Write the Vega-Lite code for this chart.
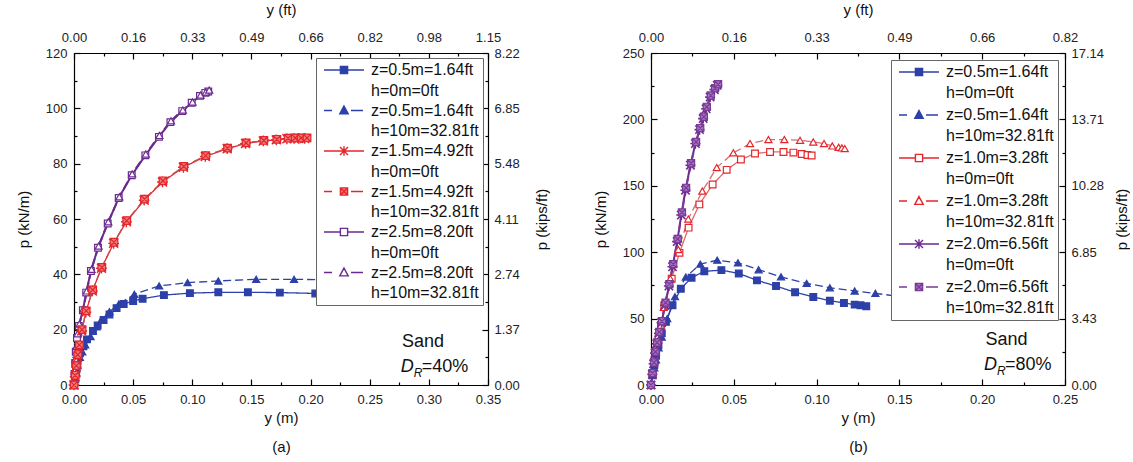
{
"$schema": "https://vega.github.io/schema/vega-lite/v6.json",
"padding": {"left": 16, "top": 2, "right": 0, "bottom": 0},
"spacing": 163,
"bounds": "flush",
"resolve": {"scale": {"x": "independent", "y": "independent", "color": "independent", "fill": "independent", "stroke": "independent", "shape": "independent", "strokeDash": "independent"}, "legend": {"color": "independent", "fill": "independent", "stroke": "independent", "shape": "independent", "strokeDash": "independent"}},
"config": {
  "font": "Liberation Sans",
  "view": {"stroke": null},
  "style": {"guide-label": {"lineHeight": 20.5}},
  "axis": {"domainColor": "#000", "domainWidth": 1.2, "tickColor": "#000", "tickWidth": 1.2, "labelFont": "Liberation Sans", "labelFontSize": 13, "labelColor": "#222", "titleFont": "Liberation Sans", "titleFontSize": 15, "titleFontWeight": "normal", "titleColor": "#111", "grid": false, "labelFlush": false}
},
"hconcat": [
{
  "width": 414, "height": 332,
  "resolve": {"axis": {"x": "independent", "y": "independent"}},
  "data": {"values": [
    {"s":"z=0.5m=1.64ft|h=0m=0ft","x":0,"p":0},{"s":"z=0.5m=1.64ft|h=0m=0ft","x":0.001,"p":2.5},{"s":"z=0.5m=1.64ft|h=0m=0ft","x":0.002,"p":5.5},{"s":"z=0.5m=1.64ft|h=0m=0ft","x":0.003,"p":8.5},{"s":"z=0.5m=1.64ft|h=0m=0ft","x":0.005,"p":11.5},{"s":"z=0.5m=1.64ft|h=0m=0ft","x":0.008,"p":14},{"s":"z=0.5m=1.64ft|h=0m=0ft","x":0.011,"p":16.5},{"s":"z=0.5m=1.64ft|h=0m=0ft","x":0.016,"p":19.5},{"s":"z=0.5m=1.64ft|h=0m=0ft","x":0.02,"p":21.5},{"s":"z=0.5m=1.64ft|h=0m=0ft","x":0.025,"p":23.5},{"s":"z=0.5m=1.64ft|h=0m=0ft","x":0.03,"p":25.5},{"s":"z=0.5m=1.64ft|h=0m=0ft","x":0.036,"p":27.8},{"s":"z=0.5m=1.64ft|h=0m=0ft","x":0.042,"p":29.3},{"s":"z=0.5m=1.64ft|h=0m=0ft","x":0.05,"p":30.3},{"s":"z=0.5m=1.64ft|h=0m=0ft","x":0.058,"p":31.2},{"s":"z=0.5m=1.64ft|h=0m=0ft","x":0.076,"p":32.5},{"s":"z=0.5m=1.64ft|h=0m=0ft","x":0.098,"p":33.2},{"s":"z=0.5m=1.64ft|h=0m=0ft","x":0.122,"p":33.5},{"s":"z=0.5m=1.64ft|h=0m=0ft","x":0.147,"p":33.5},{"s":"z=0.5m=1.64ft|h=0m=0ft","x":0.174,"p":33.4},{"s":"z=0.5m=1.64ft|h=0m=0ft","x":0.204,"p":33.1},
    {"s":"z=0.5m=1.64ft|h=10m=32.81ft","x":0,"p":0},{"s":"z=0.5m=1.64ft|h=10m=32.81ft","x":0.001,"p":2},{"s":"z=0.5m=1.64ft|h=10m=32.81ft","x":0.002,"p":4.5},{"s":"z=0.5m=1.64ft|h=10m=32.81ft","x":0.003,"p":7},{"s":"z=0.5m=1.64ft|h=10m=32.81ft","x":0.005,"p":10},{"s":"z=0.5m=1.64ft|h=10m=32.81ft","x":0.007,"p":12},{"s":"z=0.5m=1.64ft|h=10m=32.81ft","x":0.0095,"p":14.5},{"s":"z=0.5m=1.64ft|h=10m=32.81ft","x":0.014,"p":17.5},{"s":"z=0.5m=1.64ft|h=10m=32.81ft","x":0.019,"p":21},{"s":"z=0.5m=1.64ft|h=10m=32.81ft","x":0.023,"p":23.5},{"s":"z=0.5m=1.64ft|h=10m=32.81ft","x":0.03,"p":26.5},{"s":"z=0.5m=1.64ft|h=10m=32.81ft","x":0.038,"p":29.3},{"s":"z=0.5m=1.64ft|h=10m=32.81ft","x":0.051,"p":32.8},{"s":"z=0.5m=1.64ft|h=10m=32.81ft","x":0.072,"p":35.8},{"s":"z=0.5m=1.64ft|h=10m=32.81ft","x":0.096,"p":37},{"s":"z=0.5m=1.64ft|h=10m=32.81ft","x":0.122,"p":37.6},{"s":"z=0.5m=1.64ft|h=10m=32.81ft","x":0.154,"p":38.2},{"s":"z=0.5m=1.64ft|h=10m=32.81ft","x":0.186,"p":38.2},{"s":"z=0.5m=1.64ft|h=10m=32.81ft","x":0.22,"p":38},
    {"s":"z=1.5m=4.92ft|h=0m=0ft","x":0,"p":0},{"s":"z=1.5m=4.92ft|h=0m=0ft","x":0.001,"p":3},{"s":"z=1.5m=4.92ft|h=0m=0ft","x":0.002,"p":6.5},{"s":"z=1.5m=4.92ft|h=0m=0ft","x":0.003,"p":10},{"s":"z=1.5m=4.92ft|h=0m=0ft","x":0.0042,"p":13.5},{"s":"z=1.5m=4.92ft|h=0m=0ft","x":0.0065,"p":19.5},{"s":"z=1.5m=4.92ft|h=0m=0ft","x":0.01,"p":26.3},{"s":"z=1.5m=4.92ft|h=0m=0ft","x":0.0155,"p":34},{"s":"z=1.5m=4.92ft|h=0m=0ft","x":0.0232,"p":42.2},{"s":"z=1.5m=4.92ft|h=0m=0ft","x":0.0335,"p":51.2},{"s":"z=1.5m=4.92ft|h=0m=0ft","x":0.0443,"p":59},{"s":"z=1.5m=4.92ft|h=0m=0ft","x":0.0593,"p":66.8},{"s":"z=1.5m=4.92ft|h=0m=0ft","x":0.0748,"p":73.4},{"s":"z=1.5m=4.92ft|h=0m=0ft","x":0.0925,"p":78.7},{"s":"z=1.5m=4.92ft|h=0m=0ft","x":0.111,"p":82.6},{"s":"z=1.5m=4.92ft|h=0m=0ft","x":0.1295,"p":85.4},{"s":"z=1.5m=4.92ft|h=0m=0ft","x":0.145,"p":87.3},{"s":"z=1.5m=4.92ft|h=0m=0ft","x":0.16,"p":88.2},{"s":"z=1.5m=4.92ft|h=0m=0ft","x":0.171,"p":88.6},{"s":"z=1.5m=4.92ft|h=0m=0ft","x":0.18,"p":89},{"s":"z=1.5m=4.92ft|h=0m=0ft","x":0.186,"p":89.1},{"s":"z=1.5m=4.92ft|h=0m=0ft","x":0.19,"p":89.1},{"s":"z=1.5m=4.92ft|h=0m=0ft","x":0.195,"p":89.1},
    {"s":"z=1.5m=4.92ft|h=10m=32.81ft","x":0,"p":0},{"s":"z=1.5m=4.92ft|h=10m=32.81ft","x":0.001,"p":3.5},{"s":"z=1.5m=4.92ft|h=10m=32.81ft","x":0.002,"p":7},{"s":"z=1.5m=4.92ft|h=10m=32.81ft","x":0.0032,"p":11},{"s":"z=1.5m=4.92ft|h=10m=32.81ft","x":0.0045,"p":14.5},{"s":"z=1.5m=4.92ft|h=10m=32.81ft","x":0.0068,"p":20},{"s":"z=1.5m=4.92ft|h=10m=32.81ft","x":0.0103,"p":26.8},{"s":"z=1.5m=4.92ft|h=10m=32.81ft","x":0.0158,"p":34.4},{"s":"z=1.5m=4.92ft|h=10m=32.81ft","x":0.0235,"p":42.5},{"s":"z=1.5m=4.92ft|h=10m=32.81ft","x":0.0338,"p":51.6},{"s":"z=1.5m=4.92ft|h=10m=32.81ft","x":0.0446,"p":59.4},{"s":"z=1.5m=4.92ft|h=10m=32.81ft","x":0.0596,"p":67.2},{"s":"z=1.5m=4.92ft|h=10m=32.81ft","x":0.0752,"p":73.8},{"s":"z=1.5m=4.92ft|h=10m=32.81ft","x":0.0928,"p":79},{"s":"z=1.5m=4.92ft|h=10m=32.81ft","x":0.1113,"p":82.9},{"s":"z=1.5m=4.92ft|h=10m=32.81ft","x":0.1298,"p":85.6},{"s":"z=1.5m=4.92ft|h=10m=32.81ft","x":0.1455,"p":87.5},{"s":"z=1.5m=4.92ft|h=10m=32.81ft","x":0.1605,"p":88.4},{"s":"z=1.5m=4.92ft|h=10m=32.81ft","x":0.1715,"p":88.8},{"s":"z=1.5m=4.92ft|h=10m=32.81ft","x":0.181,"p":89.2},{"s":"z=1.5m=4.92ft|h=10m=32.81ft","x":0.187,"p":89.3},{"s":"z=1.5m=4.92ft|h=10m=32.81ft","x":0.192,"p":89.3},{"s":"z=1.5m=4.92ft|h=10m=32.81ft","x":0.197,"p":89.3},
    {"s":"z=2.5m=8.20ft|h=0m=0ft","x":0,"p":0},{"s":"z=2.5m=8.20ft|h=0m=0ft","x":0.0005,"p":4},{"s":"z=2.5m=8.20ft|h=0m=0ft","x":0.001,"p":8},{"s":"z=2.5m=8.20ft|h=0m=0ft","x":0.0015,"p":12},{"s":"z=2.5m=8.20ft|h=0m=0ft","x":0.0025,"p":17},{"s":"z=2.5m=8.20ft|h=0m=0ft","x":0.004,"p":21.3},{"s":"z=2.5m=8.20ft|h=0m=0ft","x":0.0075,"p":27},{"s":"z=2.5m=8.20ft|h=0m=0ft","x":0.0103,"p":33.4},{"s":"z=2.5m=8.20ft|h=0m=0ft","x":0.0143,"p":41.2},{"s":"z=2.5m=8.20ft|h=0m=0ft","x":0.0203,"p":49.6},{"s":"z=2.5m=8.20ft|h=0m=0ft","x":0.0285,"p":58.4},{"s":"z=2.5m=8.20ft|h=0m=0ft","x":0.0378,"p":67.6},{"s":"z=2.5m=8.20ft|h=0m=0ft","x":0.0488,"p":75.8},{"s":"z=2.5m=8.20ft|h=0m=0ft","x":0.0603,"p":83},{"s":"z=2.5m=8.20ft|h=0m=0ft","x":0.0718,"p":89.7},{"s":"z=2.5m=8.20ft|h=0m=0ft","x":0.0815,"p":95},{"s":"z=2.5m=8.20ft|h=0m=0ft","x":0.0915,"p":99},{"s":"z=2.5m=8.20ft|h=0m=0ft","x":0.0995,"p":102},{"s":"z=2.5m=8.20ft|h=0m=0ft","x":0.1065,"p":104.5},{"s":"z=2.5m=8.20ft|h=0m=0ft","x":0.111,"p":105.6},{"s":"z=2.5m=8.20ft|h=0m=0ft","x":0.1135,"p":106.1},
    {"s":"z=2.5m=8.20ft|h=10m=32.81ft","x":0,"p":0},{"s":"z=2.5m=8.20ft|h=10m=32.81ft","x":0.0006,"p":5},{"s":"z=2.5m=8.20ft|h=10m=32.81ft","x":0.0012,"p":9.5},{"s":"z=2.5m=8.20ft|h=10m=32.81ft","x":0.002,"p":14},{"s":"z=2.5m=8.20ft|h=10m=32.81ft","x":0.003,"p":18.5},{"s":"z=2.5m=8.20ft|h=10m=32.81ft","x":0.0045,"p":22},{"s":"z=2.5m=8.20ft|h=10m=32.81ft","x":0.008,"p":27.5},{"s":"z=2.5m=8.20ft|h=10m=32.81ft","x":0.0108,"p":34},{"s":"z=2.5m=8.20ft|h=10m=32.81ft","x":0.0148,"p":41.8},{"s":"z=2.5m=8.20ft|h=10m=32.81ft","x":0.0208,"p":50.2},{"s":"z=2.5m=8.20ft|h=10m=32.81ft","x":0.029,"p":59},{"s":"z=2.5m=8.20ft|h=10m=32.81ft","x":0.0383,"p":68},{"s":"z=2.5m=8.20ft|h=10m=32.81ft","x":0.0492,"p":76.3},{"s":"z=2.5m=8.20ft|h=10m=32.81ft","x":0.0607,"p":83.5},{"s":"z=2.5m=8.20ft|h=10m=32.81ft","x":0.0722,"p":90.2},{"s":"z=2.5m=8.20ft|h=10m=32.81ft","x":0.082,"p":95.5},{"s":"z=2.5m=8.20ft|h=10m=32.81ft","x":0.092,"p":99.4},{"s":"z=2.5m=8.20ft|h=10m=32.81ft","x":0.1002,"p":102.3},{"s":"z=2.5m=8.20ft|h=10m=32.81ft","x":0.107,"p":104.8},{"s":"z=2.5m=8.20ft|h=10m=32.81ft","x":0.1115,"p":105.9},{"s":"z=2.5m=8.20ft|h=10m=32.81ft","x":0.1143,"p":106.6}
  ]},
  "layer": [
    {
      "mark": {"type": "line", "clip": true},
      "encoding": {
        "x": {"field": "x", "type": "quantitative", "scale": {"domain": [0, 0.35], "nice": false, "zero": false},
              "axis": {"orient": "bottom", "values": [0,0.05,0.1,0.15,0.2,0.25,0.3,0.35], "format": ".2f", "tickSize": -6, "labelPadding": 14.5, "title": ["y (m)", "(a)"], "titleLineHeight": 29, "titlePadding": 4}},
        "y": {"field": "p", "type": "quantitative", "scale": {"domain": [0, 120], "nice": false},
              "axis": {"orient": "left", "values": [0,20,40,60,80,100,120], "format": "d", "tickSize": -6, "labelPadding": 13, "title": "p (kN/m)", "titlePadding": 14}},
        "color": {"field": "s", "type": "nominal", "legend": null,
                  "scale": {"range": ["#2d40a8","#2d40a8","#e3262c","#c0504d","#6b2a8f","#6b2a8f"]}},
        "strokeDash": {"field": "s", "type": "nominal", "legend": null,
                  "scale": {"range": [[1,0],[8,4],[1,0],[8,4],[1,0],[8,4]]}},
        "strokeWidth": {"condition": {"test": "indexof(datum.s,'z=2.5')>=0", "value": 2}, "value": 1.3}
      }
    },
    {
      "mark": {"type": "point", "opacity": 0},
      "encoding": {
        "x": {"field": "x", "type": "quantitative",
              "axis": {"orient": "top", "values": [0,0.05,0.1,0.15,0.2,0.25,0.3,0.35], "labelExpr": "format(datum.value*3.28084,'.2f')", "tickSize": -6, "labelPadding": 15, "title": "y (ft)", "titlePadding": 13.5}},
        "y": {"field": "p", "type": "quantitative",
              "axis": {"orient": "right", "values": [0,20,40,60,80,100,120], "labelExpr": "format(datum.value*0.068522,'.2f')", "tickSize": -6, "labelPadding": 12, "title": "p (kips/ft)", "titleAngle": -90, "titleBaseline": "top", "titlePadding": 15}},
        "shape": {"field": "s", "type": "nominal",
                  "scale": {"domain": ["z=0.5m=1.64ft|h=0m=0ft","z=0.5m=1.64ft|h=10m=32.81ft","z=1.5m=4.92ft|h=0m=0ft","z=1.5m=4.92ft|h=10m=32.81ft","z=2.5m=8.20ft|h=0m=0ft","z=2.5m=8.20ft|h=10m=32.81ft"],
                            "range": ["M-1,0H3.1M4.9,0H9M3.1,-0.9H4.9V0.9H3.1Z",
                                      "M-1,0H1M5.75,0H8.75M4,-1.1L5.05,0.85H2.95Z",
                                      "M-1,0H9M3,-1L5,1M5,-1L3,1M4,-1.2V1.2",
                                      "M-1,0H1M5.75,0H8.75M3.1,-0.9H4.9V0.9H3.1ZM3.1,-0.9L4.9,0.9M4.9,-0.9L3.1,0.9",
                                      "M-1,0H3.1M4.9,0H9M3.1,-0.9H4.9V0.9H3.1Z",
                                      "M-1,0H1M5.75,0H8.75M4,-1.1L5.05,0.85H2.95Z"]},
                  "legend": {"orient": "top-right", "offset": 5, "title": null, "symbolSize": 64, "symbolStrokeWidth": 1.4, "symbolOpacity": 1,
                             "labelFont": "Liberation Sans", "labelFontSize": 16, "labelColor": "#111", "labelOffset": 35, "labelExpr": "split(datum.label,'|')",
                             "padding": 4, "rowPadding": 3.5, "strokeColor": "#666", "fillColor": "white", "labelLimit": 300}}
      }
    },
    {
      "transform": [{"filter": {"field": "s", "oneOf": ["z=0.5m=1.64ft|h=0m=0ft","z=2.5m=8.20ft|h=0m=0ft"]}}],
      "mark": {"type": "point", "shape": "square", "size": 45, "strokeWidth": 1.2, "opacity": 1},
      "encoding": {
        "x": {"field": "x", "type": "quantitative", "axis": null},
        "y": {"field": "p", "type": "quantitative", "axis": null},
        "fill": {"field": "s", "type": "nominal",
                 "scale": {"domain": ["z=0.5m=1.64ft|h=0m=0ft","z=0.5m=1.64ft|h=10m=32.81ft","z=1.5m=4.92ft|h=0m=0ft","z=1.5m=4.92ft|h=10m=32.81ft","z=2.5m=8.20ft|h=0m=0ft","z=2.5m=8.20ft|h=10m=32.81ft"],
                           "range": ["#2d40a8","#2d40a8","#e3262c","#f27b7b","#ffffff","#ffffff"]}},
        "stroke": {"field": "s", "type": "nominal",
                 "scale": {"domain": ["z=0.5m=1.64ft|h=0m=0ft","z=0.5m=1.64ft|h=10m=32.81ft","z=1.5m=4.92ft|h=0m=0ft","z=1.5m=4.92ft|h=10m=32.81ft","z=2.5m=8.20ft|h=0m=0ft","z=2.5m=8.20ft|h=10m=32.81ft"],
                           "range": ["#2d40a8","#2d40a8","#e3262c","#e3262c","#6b2a8f","#6b2a8f"]}}
      }
    },
    {
      "transform": [{"filter": {"field": "s", "oneOf": ["z=0.5m=1.64ft|h=10m=32.81ft","z=2.5m=8.20ft|h=10m=32.81ft"]}}],
      "mark": {"type": "point", "shape": "triangle-up", "size": 50, "strokeWidth": 1.2, "opacity": 1},
      "encoding": {
        "x": {"field": "x", "type": "quantitative", "axis": null},
        "y": {"field": "p", "type": "quantitative", "axis": null},
        "fill": {"field": "s", "type": "nominal"},
        "stroke": {"field": "s", "type": "nominal"}
      }
    },
    {
      "transform": [{"filter": {"field": "s", "equal": "z=1.5m=4.92ft|h=0m=0ft"}}],
      "mark": {"type": "point", "shape": "M-1,-1L1,1M1,-1L-1,1M-1.2,0H1.2M0,-1.2V1.2", "size": 80, "strokeWidth": 1.4, "opacity": 1},
      "encoding": {
        "x": {"field": "x", "type": "quantitative", "axis": null},
        "y": {"field": "p", "type": "quantitative", "axis": null},
        "fill": {"field": "s", "type": "nominal"},
        "stroke": {"field": "s", "type": "nominal"}
      }
    },
    {
      "transform": [{"filter": {"field": "s", "equal": "z=1.5m=4.92ft|h=10m=32.81ft"}}],
      "mark": {"type": "point", "shape": "M-0.85,-0.85H0.85V0.85H-0.85ZM-0.85,-0.85L0.85,0.85M0.85,-0.85L-0.85,0.85", "size": 80, "strokeWidth": 1.2, "opacity": 1},
      "encoding": {
        "x": {"field": "x", "type": "quantitative", "axis": null},
        "y": {"field": "p", "type": "quantitative", "axis": null},
        "fill": {"field": "s", "type": "nominal"},
        "stroke": {"field": "s", "type": "nominal"}
      }
    },
    {
      "data": {"values": [{}]},
      "mark": {"type": "text", "text": "Sand", "fontSize": 18, "font": "Liberation Sans", "align": "center", "baseline": "middle", "color": "#111"},
      "encoding": {
        "x": {"datum": 0.295, "type": "quantitative", "axis": {"orient": "bottom", "values": [0.025,0.075,0.125,0.175,0.225,0.275,0.325], "labels": false, "domain": false, "tickSize": -3, "title": null}},
        "y": {"datum": 15.6, "type": "quantitative", "axis": {"orient": "left", "values": [10,30,50,70,90,110], "labels": false, "domain": false, "tickSize": -3, "title": null}}
      }
    },
    {
      "data": {"values": [{}]},
      "mark": {"type": "text", "text": "D", "fontSize": 18, "fontStyle": "italic", "font": "Liberation Sans", "align": "left", "baseline": "middle", "color": "#111"},
      "encoding": {
        "x": {"datum": 0.2763, "type": "quantitative", "axis": {"orient": "top", "values": [0.025,0.075,0.125,0.175,0.225,0.275,0.325], "labels": false, "domain": false, "tickSize": -3, "title": null}},
        "y": {"datum": 6.6, "type": "quantitative", "axis": {"orient": "right", "values": [10,30,50,70,90,110], "labels": false, "domain": false, "tickSize": -3, "title": null}}
      }
    },
    {
      "data": {"values": [{}]},
      "mark": {"type": "text", "text": "R", "fontSize": 12, "fontStyle": "italic", "font": "Liberation Sans", "align": "left", "baseline": "middle", "dx": 13, "dy": 6, "color": "#111"},
      "encoding": {"x": {"datum": 0.2763, "type": "quantitative", "axis": null}, "y": {"datum": 6.6, "type": "quantitative", "axis": null}}
    },
    {
      "data": {"values": [{}]},
      "mark": {"type": "text", "text": "=40%", "fontSize": 18, "font": "Liberation Sans", "align": "left", "baseline": "middle", "dx": 21, "color": "#111"},
      "encoding": {"x": {"datum": 0.2763, "type": "quantitative", "axis": null}, "y": {"datum": 6.6, "type": "quantitative", "axis": null}}
    }
  ]
},
{
  "width": 414, "height": 332,
  "resolve": {"axis": {"x": "independent", "y": "independent"}},
  "data": {"values": [
    {"s":"z=0.5m=1.64ft|h=0m=0ft","x":0,"p":0},{"s":"z=0.5m=1.64ft|h=0m=0ft","x":0.001,"p":8},{"s":"z=0.5m=1.64ft|h=0m=0ft","x":0.002,"p":15},{"s":"z=0.5m=1.64ft|h=0m=0ft","x":0.003,"p":22},{"s":"z=0.5m=1.64ft|h=0m=0ft","x":0.0045,"p":30},{"s":"z=0.5m=1.64ft|h=0m=0ft","x":0.0065,"p":39},{"s":"z=0.5m=1.64ft|h=0m=0ft","x":0.009,"p":47.5},{"s":"z=0.5m=1.64ft|h=0m=0ft","x":0.013,"p":60},{"s":"z=0.5m=1.64ft|h=0m=0ft","x":0.018,"p":72.5},{"s":"z=0.5m=1.64ft|h=0m=0ft","x":0.0245,"p":80.8},{"s":"z=0.5m=1.64ft|h=0m=0ft","x":0.0322,"p":85.6},{"s":"z=0.5m=1.64ft|h=0m=0ft","x":0.0425,"p":86.5},{"s":"z=0.5m=1.64ft|h=0m=0ft","x":0.053,"p":84},{"s":"z=0.5m=1.64ft|h=0m=0ft","x":0.064,"p":78.8},{"s":"z=0.5m=1.64ft|h=0m=0ft","x":0.0755,"p":74.5},{"s":"z=0.5m=1.64ft|h=0m=0ft","x":0.087,"p":69.8},{"s":"z=0.5m=1.64ft|h=0m=0ft","x":0.098,"p":66.3},{"s":"z=0.5m=1.64ft|h=0m=0ft","x":0.108,"p":63.5},{"s":"z=0.5m=1.64ft|h=0m=0ft","x":0.1165,"p":61.8},{"s":"z=0.5m=1.64ft|h=0m=0ft","x":0.123,"p":60.5},{"s":"z=0.5m=1.64ft|h=0m=0ft","x":0.1265,"p":60},{"s":"z=0.5m=1.64ft|h=0m=0ft","x":0.13,"p":59.3},
    {"s":"z=0.5m=1.64ft|h=10m=32.81ft","x":0,"p":0},{"s":"z=0.5m=1.64ft|h=10m=32.81ft","x":0.001,"p":7},{"s":"z=0.5m=1.64ft|h=10m=32.81ft","x":0.002,"p":13},{"s":"z=0.5m=1.64ft|h=10m=32.81ft","x":0.003,"p":19},{"s":"z=0.5m=1.64ft|h=10m=32.81ft","x":0.0046,"p":28},{"s":"z=0.5m=1.64ft|h=10m=32.81ft","x":0.0065,"p":36},{"s":"z=0.5m=1.64ft|h=10m=32.81ft","x":0.0098,"p":50},{"s":"z=0.5m=1.64ft|h=10m=32.81ft","x":0.0145,"p":66.5},{"s":"z=0.5m=1.64ft|h=10m=32.81ft","x":0.021,"p":81.3},{"s":"z=0.5m=1.64ft|h=10m=32.81ft","x":0.0298,"p":91},{"s":"z=0.5m=1.64ft|h=10m=32.81ft","x":0.04,"p":94},{"s":"z=0.5m=1.64ft|h=10m=32.81ft","x":0.0525,"p":92},{"s":"z=0.5m=1.64ft|h=10m=32.81ft","x":0.065,"p":86.8},{"s":"z=0.5m=1.64ft|h=10m=32.81ft","x":0.0785,"p":81.5},{"s":"z=0.5m=1.64ft|h=10m=32.81ft","x":0.094,"p":76.5},{"s":"z=0.5m=1.64ft|h=10m=32.81ft","x":0.108,"p":73.2},{"s":"z=0.5m=1.64ft|h=10m=32.81ft","x":0.123,"p":70.8},{"s":"z=0.5m=1.64ft|h=10m=32.81ft","x":0.1355,"p":69},{"s":"z=0.5m=1.64ft|h=10m=32.81ft","x":0.148,"p":67},{"s":"z=0.5m=1.64ft|h=10m=32.81ft","x":0.156,"p":66},
    {"s":"z=1.0m=3.28ft|h=0m=0ft","x":0,"p":0},{"s":"z=1.0m=3.28ft|h=0m=0ft","x":0.001,"p":9},{"s":"z=1.0m=3.28ft|h=0m=0ft","x":0.002,"p":18},{"s":"z=1.0m=3.28ft|h=0m=0ft","x":0.003,"p":26},{"s":"z=1.0m=3.28ft|h=0m=0ft","x":0.0045,"p":35},{"s":"z=1.0m=3.28ft|h=0m=0ft","x":0.006,"p":45},{"s":"z=1.0m=3.28ft|h=0m=0ft","x":0.008,"p":59.5},{"s":"z=1.0m=3.28ft|h=0m=0ft","x":0.0125,"p":80},{"s":"z=1.0m=3.28ft|h=0m=0ft","x":0.0172,"p":99.5},{"s":"z=1.0m=3.28ft|h=0m=0ft","x":0.0227,"p":118.5},{"s":"z=1.0m=3.28ft|h=0m=0ft","x":0.0292,"p":136},{"s":"z=1.0m=3.28ft|h=0m=0ft","x":0.0372,"p":151},{"s":"z=1.0m=3.28ft|h=0m=0ft","x":0.0457,"p":162},{"s":"z=1.0m=3.28ft|h=0m=0ft","x":0.0543,"p":169.8},{"s":"z=1.0m=3.28ft|h=0m=0ft","x":0.0628,"p":174.3},{"s":"z=1.0m=3.28ft|h=0m=0ft","x":0.0719,"p":175.5},{"s":"z=1.0m=3.28ft|h=0m=0ft","x":0.08,"p":175.5},{"s":"z=1.0m=3.28ft|h=0m=0ft","x":0.086,"p":175},{"s":"z=1.0m=3.28ft|h=0m=0ft","x":0.091,"p":174},{"s":"z=1.0m=3.28ft|h=0m=0ft","x":0.0945,"p":173.2},{"s":"z=1.0m=3.28ft|h=0m=0ft","x":0.097,"p":172.8},
    {"s":"z=1.0m=3.28ft|h=10m=32.81ft","x":0,"p":0},{"s":"z=1.0m=3.28ft|h=10m=32.81ft","x":0.001,"p":9},{"s":"z=1.0m=3.28ft|h=10m=32.81ft","x":0.002,"p":17},{"s":"z=1.0m=3.28ft|h=10m=32.81ft","x":0.003,"p":25},{"s":"z=1.0m=3.28ft|h=10m=32.81ft","x":0.0045,"p":34},{"s":"z=1.0m=3.28ft|h=10m=32.81ft","x":0.006,"p":45},{"s":"z=1.0m=3.28ft|h=10m=32.81ft","x":0.0077,"p":58.4},{"s":"z=1.0m=3.28ft|h=10m=32.81ft","x":0.0117,"p":80.2},{"s":"z=1.0m=3.28ft|h=10m=32.81ft","x":0.0165,"p":102},{"s":"z=1.0m=3.28ft|h=10m=32.81ft","x":0.0225,"p":125},{"s":"z=1.0m=3.28ft|h=10m=32.81ft","x":0.031,"p":146},{"s":"z=1.0m=3.28ft|h=10m=32.81ft","x":0.0397,"p":163.7},{"s":"z=1.0m=3.28ft|h=10m=32.81ft","x":0.0497,"p":174.8},{"s":"z=1.0m=3.28ft|h=10m=32.81ft","x":0.0598,"p":181.8},{"s":"z=1.0m=3.28ft|h=10m=32.81ft","x":0.0709,"p":184.8},{"s":"z=1.0m=3.28ft|h=10m=32.81ft","x":0.0805,"p":184.8},{"s":"z=1.0m=3.28ft|h=10m=32.81ft","x":0.09,"p":184.3},{"s":"z=1.0m=3.28ft|h=10m=32.81ft","x":0.098,"p":183},{"s":"z=1.0m=3.28ft|h=10m=32.81ft","x":0.1045,"p":181.8},{"s":"z=1.0m=3.28ft|h=10m=32.81ft","x":0.1095,"p":180},{"s":"z=1.0m=3.28ft|h=10m=32.81ft","x":0.1133,"p":179},{"s":"z=1.0m=3.28ft|h=10m=32.81ft","x":0.1153,"p":178.5},{"s":"z=1.0m=3.28ft|h=10m=32.81ft","x":0.117,"p":178},
    {"s":"z=2.0m=6.56ft|h=0m=0ft","x":0,"p":0},{"s":"z=2.0m=6.56ft|h=0m=0ft","x":0.0008,"p":8},{"s":"z=2.0m=6.56ft|h=0m=0ft","x":0.0016,"p":16},{"s":"z=2.0m=6.56ft|h=0m=0ft","x":0.0025,"p":24},{"s":"z=2.0m=6.56ft|h=0m=0ft","x":0.0035,"p":31},{"s":"z=2.0m=6.56ft|h=0m=0ft","x":0.0048,"p":39},{"s":"z=2.0m=6.56ft|h=0m=0ft","x":0.0064,"p":47},{"s":"z=2.0m=6.56ft|h=0m=0ft","x":0.0085,"p":60},{"s":"z=2.0m=6.56ft|h=0m=0ft","x":0.0108,"p":74.5},{"s":"z=2.0m=6.56ft|h=0m=0ft","x":0.013,"p":89},{"s":"z=2.0m=6.56ft|h=0m=0ft","x":0.0158,"p":108},{"s":"z=2.0m=6.56ft|h=0m=0ft","x":0.0183,"p":128},{"s":"z=2.0m=6.56ft|h=0m=0ft","x":0.0208,"p":146.7},{"s":"z=2.0m=6.56ft|h=0m=0ft","x":0.0238,"p":165.5},{"s":"z=2.0m=6.56ft|h=0m=0ft","x":0.0268,"p":181.8},{"s":"z=2.0m=6.56ft|h=0m=0ft","x":0.0293,"p":192.3},{"s":"z=2.0m=6.56ft|h=0m=0ft","x":0.0315,"p":200.6},{"s":"z=2.0m=6.56ft|h=0m=0ft","x":0.0333,"p":208},{"s":"z=2.0m=6.56ft|h=0m=0ft","x":0.0357,"p":216.8},{"s":"z=2.0m=6.56ft|h=0m=0ft","x":0.0383,"p":222.4},{"s":"z=2.0m=6.56ft|h=0m=0ft","x":0.04,"p":225.7},
    {"s":"z=2.0m=6.56ft|h=10m=32.81ft","x":0,"p":0},{"s":"z=2.0m=6.56ft|h=10m=32.81ft","x":0.0009,"p":9},{"s":"z=2.0m=6.56ft|h=10m=32.81ft","x":0.0018,"p":17},{"s":"z=2.0m=6.56ft|h=10m=32.81ft","x":0.0027,"p":25},{"s":"z=2.0m=6.56ft|h=10m=32.81ft","x":0.0037,"p":32},{"s":"z=2.0m=6.56ft|h=10m=32.81ft","x":0.005,"p":40},{"s":"z=2.0m=6.56ft|h=10m=32.81ft","x":0.0066,"p":48},{"s":"z=2.0m=6.56ft|h=10m=32.81ft","x":0.0088,"p":62},{"s":"z=2.0m=6.56ft|h=10m=32.81ft","x":0.0111,"p":76},{"s":"z=2.0m=6.56ft|h=10m=32.81ft","x":0.0134,"p":91},{"s":"z=2.0m=6.56ft|h=10m=32.81ft","x":0.0161,"p":110},{"s":"z=2.0m=6.56ft|h=10m=32.81ft","x":0.0187,"p":130},{"s":"z=2.0m=6.56ft|h=10m=32.81ft","x":0.0212,"p":148.5},{"s":"z=2.0m=6.56ft|h=10m=32.81ft","x":0.0242,"p":167},{"s":"z=2.0m=6.56ft|h=10m=32.81ft","x":0.0272,"p":183},{"s":"z=2.0m=6.56ft|h=10m=32.81ft","x":0.0297,"p":193.5},{"s":"z=2.0m=6.56ft|h=10m=32.81ft","x":0.0319,"p":202},{"s":"z=2.0m=6.56ft|h=10m=32.81ft","x":0.0337,"p":209.5},{"s":"z=2.0m=6.56ft|h=10m=32.81ft","x":0.0361,"p":218},{"s":"z=2.0m=6.56ft|h=10m=32.81ft","x":0.0387,"p":223.5},{"s":"z=2.0m=6.56ft|h=10m=32.81ft","x":0.0405,"p":226.5}
  ]},
  "layer": [
    {
      "mark": {"type": "line", "clip": true},
      "encoding": {
        "x": {"field": "x", "type": "quantitative", "scale": {"domain": [0, 0.25], "nice": false, "zero": false},
              "axis": {"orient": "bottom", "values": [0,0.05,0.1,0.15,0.2,0.25], "format": ".2f", "tickSize": -6, "labelPadding": 14.5, "title": ["y (m)", "(b)"], "titleLineHeight": 29, "titlePadding": 4}},
        "y": {"field": "p", "type": "quantitative", "scale": {"domain": [0, 250], "nice": false},
              "axis": {"orient": "left", "values": [0,50,100,150,200,250], "format": "d", "tickSize": -6, "labelPadding": 13, "title": "p (kN/m)", "titlePadding": 14}},
        "color": {"field": "s", "type": "nominal", "legend": null,
                  "scale": {"range": ["#2d40a8","#2d40a8","#e06a6a","#d07070","#6b2a8f","#7a3a95"]}},
        "strokeDash": {"field": "s", "type": "nominal", "legend": null,
                  "scale": {"range": [[1,0],[8,4],[1,0],[8,4],[1,0],[8,4]]}},
        "strokeWidth": {"condition": {"test": "indexof(datum.s,'z=2.0')>=0", "value": 2}, "value": 1.3}
      }
    },
    {
      "mark": {"type": "point", "opacity": 0},
      "encoding": {
        "x": {"field": "x", "type": "quantitative",
              "axis": {"orient": "top", "values": [0,0.05,0.1,0.15,0.2,0.25], "labelExpr": "format(datum.value*3.28084,'.2f')", "tickSize": -6, "labelPadding": 15, "title": "y (ft)", "titlePadding": 13.5}},
        "y": {"field": "p", "type": "quantitative",
              "axis": {"orient": "right", "values": [0,50,100,150,200,250], "labelExpr": "datum.value==0?'0.00':datum.value==50?'3.43':datum.value==100?'6.85':datum.value==150?'10.28':datum.value==200?'13.71':'17.14'", "tickSize": -6, "labelPadding": 12, "title": "p (kips/ft)", "titleAngle": -90, "titleBaseline": "top", "titlePadding": 11}},
        "shape": {"field": "s", "type": "nominal",
                  "scale": {"domain": ["z=0.5m=1.64ft|h=0m=0ft","z=0.5m=1.64ft|h=10m=32.81ft","z=1.0m=3.28ft|h=0m=0ft","z=1.0m=3.28ft|h=10m=32.81ft","z=2.0m=6.56ft|h=0m=0ft","z=2.0m=6.56ft|h=10m=32.81ft"],
                            "range": ["M-1,0H3.1M4.9,0H9M3.1,-0.9H4.9V0.9H3.1Z",
                                      "M-1,0H1M5.75,0H8.75M4,-1.1L5.05,0.85H2.95Z",
                                      "M-1,0H3.1M4.9,0H9M3.1,-0.9H4.9V0.9H3.1Z",
                                      "M-1,0H1M5.75,0H8.75M4,-1.1L5.05,0.85H2.95Z",
                                      "M-1,0H9M3,-1L5,1M5,-1L3,1M4,-1.2V1.2",
                                      "M-1,0H1M5.75,0H8.75M3.1,-0.9H4.9V0.9H3.1ZM3.1,-0.9L4.9,0.9M4.9,-0.9L3.1,0.9"]},
                  "legend": {"orient": "top-right", "offset": 7, "title": null, "symbolSize": 64, "symbolStrokeWidth": 1.4, "symbolOpacity": 1,
                             "labelFont": "Liberation Sans", "labelFontSize": 16, "labelColor": "#111", "labelOffset": 35, "labelExpr": "split(datum.label,'|')",
                             "padding": 4, "rowPadding": 6, "strokeColor": "#666", "fillColor": "white", "labelLimit": 300}}
      }
    },
    {
      "transform": [{"filter": {"field": "s", "oneOf": ["z=0.5m=1.64ft|h=0m=0ft","z=1.0m=3.28ft|h=0m=0ft"]}}],
      "mark": {"type": "point", "shape": "square", "size": 45, "strokeWidth": 1.2, "opacity": 1},
      "encoding": {
        "x": {"field": "x", "type": "quantitative", "axis": null},
        "y": {"field": "p", "type": "quantitative", "axis": null},
        "fill": {"field": "s", "type": "nominal",
                 "scale": {"domain": ["z=0.5m=1.64ft|h=0m=0ft","z=0.5m=1.64ft|h=10m=32.81ft","z=1.0m=3.28ft|h=0m=0ft","z=1.0m=3.28ft|h=10m=32.81ft","z=2.0m=6.56ft|h=0m=0ft","z=2.0m=6.56ft|h=10m=32.81ft"],
                           "range": ["#2d40a8","#2d40a8","#ffffff","#ffffff","#6b2a8f","#a575c4"]}},
        "stroke": {"field": "s", "type": "nominal",
                 "scale": {"domain": ["z=0.5m=1.64ft|h=0m=0ft","z=0.5m=1.64ft|h=10m=32.81ft","z=1.0m=3.28ft|h=0m=0ft","z=1.0m=3.28ft|h=10m=32.81ft","z=2.0m=6.56ft|h=0m=0ft","z=2.0m=6.56ft|h=10m=32.81ft"],
                           "range": ["#2d40a8","#2d40a8","#e3262c","#e3262c","#6b2a8f","#7a3a95"]}}
      }
    },
    {
      "transform": [{"filter": {"field": "s", "oneOf": ["z=0.5m=1.64ft|h=10m=32.81ft","z=1.0m=3.28ft|h=10m=32.81ft"]}}],
      "mark": {"type": "point", "shape": "triangle-up", "size": 50, "strokeWidth": 1.2, "opacity": 1},
      "encoding": {
        "x": {"field": "x", "type": "quantitative", "axis": null},
        "y": {"field": "p", "type": "quantitative", "axis": null},
        "fill": {"field": "s", "type": "nominal"},
        "stroke": {"field": "s", "type": "nominal"}
      }
    },
    {
      "transform": [{"filter": {"field": "s", "equal": "z=2.0m=6.56ft|h=0m=0ft"}}],
      "mark": {"type": "point", "shape": "M-1,-1L1,1M1,-1L-1,1M-1.2,0H1.2M0,-1.2V1.2", "size": 70, "strokeWidth": 1.6, "opacity": 1},
      "encoding": {
        "x": {"field": "x", "type": "quantitative", "axis": null},
        "y": {"field": "p", "type": "quantitative", "axis": null},
        "fill": {"field": "s", "type": "nominal"},
        "stroke": {"field": "s", "type": "nominal"}
      }
    },
    {
      "transform": [{"filter": {"field": "s", "equal": "z=2.0m=6.56ft|h=10m=32.81ft"}}],
      "mark": {"type": "point", "shape": "M-0.85,-0.85H0.85V0.85H-0.85ZM-0.85,-0.85L0.85,0.85M0.85,-0.85L-0.85,0.85", "size": 70, "strokeWidth": 1.2, "opacity": 1},
      "encoding": {
        "x": {"field": "x", "type": "quantitative", "axis": null},
        "y": {"field": "p", "type": "quantitative", "axis": null},
        "fill": {"field": "s", "type": "nominal"},
        "stroke": {"field": "s", "type": "nominal"}
      }
    },
    {
      "data": {"values": [{}]},
      "mark": {"type": "text", "text": "Sand", "fontSize": 18, "font": "Liberation Sans", "align": "center", "baseline": "middle", "color": "#111"},
      "encoding": {
        "x": {"datum": 0.2147, "type": "quantitative", "axis": {"orient": "bottom", "values": [0.025,0.075,0.125,0.175,0.225], "labels": false, "domain": false, "tickSize": -3, "title": null}},
        "y": {"datum": 34, "type": "quantitative", "axis": {"orient": "left", "values": [25,75,125,175,225], "labels": false, "domain": false, "tickSize": -3, "title": null}}
      }
    },
    {
      "data": {"values": [{}]},
      "mark": {"type": "text", "text": "D", "fontSize": 18, "fontStyle": "italic", "font": "Liberation Sans", "align": "left", "baseline": "middle", "color": "#111"},
      "encoding": {
        "x": {"datum": 0.2011, "type": "quantitative", "axis": {"orient": "top", "values": [0.025,0.075,0.125,0.175,0.225], "labels": false, "domain": false, "tickSize": -3, "title": null}},
        "y": {"datum": 15, "type": "quantitative", "axis": {"orient": "right", "values": [25,75,125,175,225], "labels": false, "domain": false, "tickSize": -3, "title": null}}
      }
    },
    {
      "data": {"values": [{}]},
      "mark": {"type": "text", "text": "R", "fontSize": 12, "fontStyle": "italic", "font": "Liberation Sans", "align": "left", "baseline": "middle", "dx": 13, "dy": 6, "color": "#111"},
      "encoding": {"x": {"datum": 0.2011, "type": "quantitative", "axis": null}, "y": {"datum": 15, "type": "quantitative", "axis": null}}
    },
    {
      "data": {"values": [{}]},
      "mark": {"type": "text", "text": "=80%", "fontSize": 18, "font": "Liberation Sans", "align": "left", "baseline": "middle", "dx": 21, "color": "#111"},
      "encoding": {"x": {"datum": 0.2011, "type": "quantitative", "axis": null}, "y": {"datum": 15, "type": "quantitative", "axis": null}}
    }
  ]
}
]
}
